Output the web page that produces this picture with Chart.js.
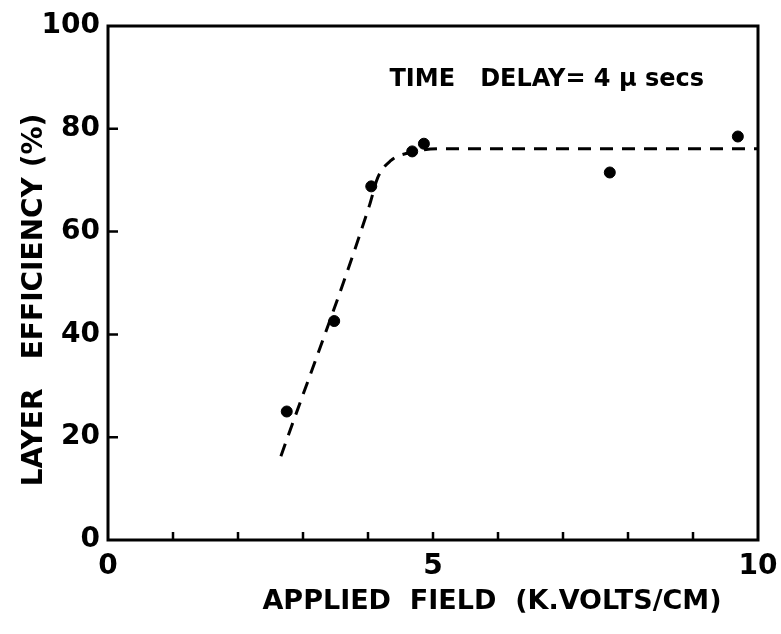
<!DOCTYPE html>
<html>
<head>
<meta charset="utf-8">
<script src="https://cdn.jsdelivr.net/npm/chart.js@4/dist/chart.umd.min.js"></script>
<style>
  html, body { margin: 0; padding: 0; background: #ffffff; }
  #wrap { width: 781px; height: 634px; }
</style>
</head>
<body>
<div id="wrap"><canvas id="effChart" width="781" height="634"></canvas></div>
<script>
// measured points: applied field (kV/cm) vs layer efficiency (%)
const fieldKV = [2.75, 3.48, 4.05, 4.68, 4.86, 7.72, 9.69];
const efficiencyPct = [25.0, 42.6, 68.8, 75.6, 77.1, 71.5, 78.5];

// hand-drawn trend curve through the data
const curveKV = [2.66, 4.02, 4.15, 4.35, 4.65, 5.1, 10];
const curvePct = [16.3, 65.0, 70.5, 73.8, 75.4, 76.1, 76.1];

const xLabels = [0, 5, 10];
const yLabels = [0, 20, 40, 60, 80, 100];

const xTitle = 'APPLIED  FIELD  (K.VOLTS/CM)';
const yTitle = 'LAYER   EFFICIENCY (%)';
const noteText = 'TIME   DELAY= 4 \u03bc secs';
const notePos = { x: 6.75, y: 88.3 };

const FONT = "'DejaVu Sans', sans-serif";

function toPoints(xs, ys) {
    return xs.map((x, i) => ({ x: x, y: ys[i] }));
}

// frame, inward tick marks, axis titles and the annotation
const framePlugin = {
    id: 'frame',
    afterDraw(chart) {
        const { ctx, chartArea: a, scales } = chart;
        ctx.save();
        ctx.strokeStyle = '#000';
        ctx.lineWidth = 3;
        ctx.strokeRect(a.left, a.top, a.right - a.left, a.bottom - a.top);

        ctx.lineWidth = 2.5;
        ctx.beginPath();
        for (let v = 1; v < 10; v++) {
            const px = scales.x.getPixelForValue(v);
            ctx.moveTo(px, a.bottom);
            ctx.lineTo(px, a.bottom - 8);
        }
        yLabels.slice(1, -1).forEach(v => {
            const py = scales.y.getPixelForValue(v);
            ctx.moveTo(a.left, py);
            ctx.lineTo(a.left + 10, py);
        });
        ctx.stroke();

        ctx.fillStyle = '#000';
        ctx.textAlign = 'center';
        ctx.textBaseline = 'alphabetic';

        ctx.font = 'bold 24px ' + FONT;
        ctx.fillText(noteText, scales.x.getPixelForValue(notePos.x), scales.y.getPixelForValue(notePos.y));

        ctx.font = 'bold 27px ' + FONT;
        ctx.fillText(xTitle, a.left + 384, a.bottom + 69);

        ctx.translate(a.left - 73, a.top + 274);
        ctx.rotate(-Math.PI / 2);
        ctx.textBaseline = 'middle';
        ctx.font = 'bold 28px ' + FONT;
        ctx.fillText(yTitle, 0, 0);
        ctx.restore();
    }
};

new Chart(document.getElementById('effChart'), {
    type: 'scatter',
    data: {
        datasets: [
            {
                data: toPoints(fieldKV, efficiencyPct),
                backgroundColor: '#000',
                borderColor: '#000',
                pointRadius: 5.5,
                showLine: false
            },
            {
                type: 'line',
                data: toPoints(curveKV, curvePct),
                borderColor: '#000',
                borderWidth: 3,
                borderDash: [13, 9],
                pointRadius: 0,
                fill: false,
                cubicInterpolationMode: 'monotone'
            }
        ]
    },
    options: {
        responsive: false,
        animation: false,
        layout: { padding: { top: 26, right: 23, left: 0, bottom: 0 } },
        plugins: {
            legend: { display: false },
            tooltip: { enabled: false }
        },
        scales: {
            x: {
                type: 'linear',
                min: 0,
                max: 10,
                afterFit(scale) {
                    scale.height = 94;
                    scale.paddingLeft = 0;
                    scale.paddingRight = 0;
                },
                grid: { display: false, drawTicks: false },
                border: { display: false },
                ticks: {
                    stepSize: 1,
                    autoSkip: false,
                    maxRotation: 0,
                    padding: 10,
                    color: '#000',
                    font: { family: FONT, size: 28, weight: 'bold' },
                    callback: v => (xLabels.includes(v) ? String(v) : '')
                }
            },
            y: {
                type: 'linear',
                min: 0,
                max: 100,
                afterFit(scale) { scale.width = 108; },
                grid: { display: false, drawTicks: false },
                border: { display: false },
                ticks: {
                    stepSize: 20,
                    padding: 8,
                    color: '#000',
                    font: { family: FONT, size: 28, weight: 'bold' },
                    callback: v => (yLabels.includes(v) ? String(v) : '')
                }
            }
        }
    },
    plugins: [framePlugin]
});
</script>
</body>
</html>
